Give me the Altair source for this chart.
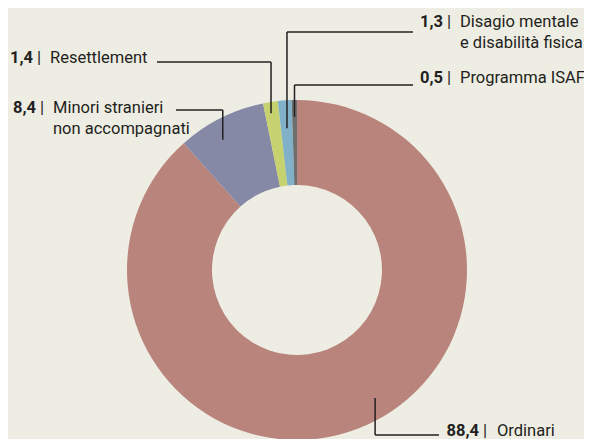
import math
import altair as alt
import pandas as pd

# ---- data -------------------------------------------------------------
categories = ["Ordinari", "Minori stranieri\nnon accompagnati", "Resettlement",
              "Disagio mentale\ne disabilità fisica", "Programma ISAF"]
values = [88.4, 8.4, 1.4, 1.3, 0.5]
value_labels = ["88,4", "8,4", "1,4", "1,3", "0,5"]
colors = ["#b8847b", "#8589a6", "#c6d16f", "#80b1c9", "#6d6e6e"]

# ---- layout (page pixel coords; chart origin is at 8,8) ----------------
OFF = 8
CX, CY = 297 - OFF, 270 - OFF
R_OUT, R_IN = 170, 85
FONT = "Roboto, Liberation Sans, sans-serif"
FS = 16.5
INK = "#231f20"

# per label: position within slice, leader radius, elbow y, line end x,
# number right edge, bar x, name left x, baseline y
layout = [
    dict(frac=0.467, r=150, elbow=435, end=439, num=479, bar=485, name=497, base=436),
    dict(frac=0.40, r=150, elbow=110, end=176, num=36, bar=42, name=53, base=113),
    dict(frac=0.42, r=159, elbow=62, end=157, num=33, bar=39, name=50, base=63),
    dict(frac=0.52, r=142, elbow=32, end=413, num=443, bar=449, name=460, base=27),
    dict(frac=0.48, r=153, elbow=85, end=413, num=443, bar=449, name=460, base=83),
]

df = pd.DataFrame({"cat": categories, "value": values, "idx": list(range(len(values)))})

# leader lines derived from slice geometry
total = sum(values)
rules, nums, bars, names = [], [], [], []
cum = 0.0
for cat, v, lab, L in zip(categories, values, value_labels, layout):
    a = 2 * math.pi * (cum + L["frac"] * v) / total
    cum += v
    ax = CX + L["r"] * math.sin(a)
    ay = CY - L["r"] * math.cos(a)
    ey = L["elbow"] - OFF
    rules.append(dict(x=ax, y=ay, x2=ax, y2=ey))
    rules.append(dict(x=ax, y=ey, x2=L["end"] - OFF, y2=ey))
    nums.append(dict(x=L["num"] - OFF, y=L["base"] - OFF, t=lab))
    bars.append(dict(x=L["bar"] - OFF, y=L["base"] - OFF, t="|"))
    names.append(dict(x=L["name"] - OFF, y=L["base"] - OFF, t=cat))

donut = alt.Chart(df).mark_arc(outerRadius=R_OUT, innerRadius=R_IN, stroke=None).encode(
    theta=alt.Theta("value:Q", stack=True),
    color=alt.Color("cat:N", scale=alt.Scale(domain=categories, range=colors), legend=None),
    order=alt.Order("idx:Q"),
    x=alt.value(CX),
    y=alt.value(CY),
)

X = lambda f: alt.X(f, scale=None, axis=None)
Y = lambda f: alt.Y(f, scale=None, axis=None)

lines = alt.Chart(pd.DataFrame(rules)).mark_rule(color=INK, strokeWidth=1.5).encode(
    x=X("x:Q"), y=Y("y:Q"), x2="x2:Q", y2="y2:Q"
)

num_text = alt.Chart(pd.DataFrame(nums)).mark_text(
    font=FONT, fontSize=FS, fontWeight="bold", align="right", baseline="alphabetic", color=INK
).encode(x=X("x:Q"), y=Y("y:Q"), text="t:N")

bar_text = alt.Chart(pd.DataFrame(bars)).mark_text(
    font=FONT, fontSize=FS, align="center", baseline="alphabetic", color=INK
).encode(x=X("x:Q"), y=Y("y:Q"), text="t:N")

name_text = alt.Chart(pd.DataFrame(names)).mark_text(
    font=FONT, fontSize=FS, align="left", baseline="alphabetic", color=INK,
    lineBreak="\n", lineHeight=21
).encode(x=X("x:Q"), y=Y("y:Q"), text="t:N")

chart = alt.layer(donut, lines, num_text, bar_text, name_text).properties(
    width=576, height=431, padding=0,
    autosize=alt.AutoSizeParams(type="none"),
).configure(background="#eeede3").configure_view(strokeWidth=0)

chart.save("out.html", embed_options={"renderer": "svg", "actions": False})
